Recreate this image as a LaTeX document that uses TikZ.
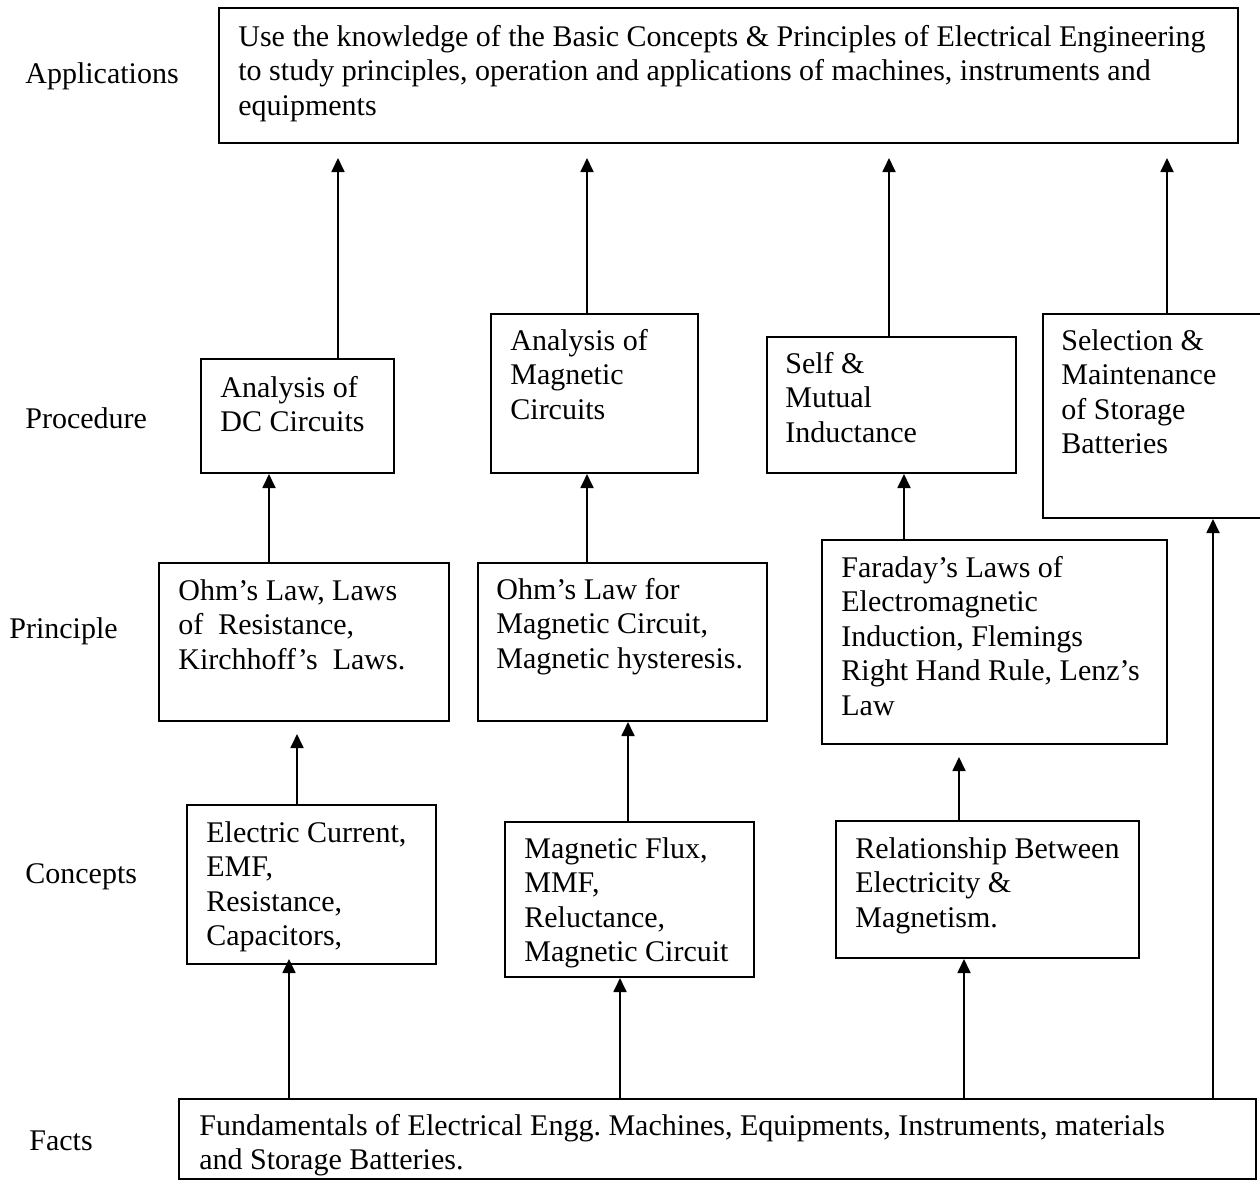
\documentclass[tikz,border=0pt]{standalone}
\usepackage{fontspec}
\setmainfont{Liberation Serif}
\usetikzlibrary{arrows.meta,calc}
\begin{document}
\begin{tikzpicture}[x=0.5pt,y=-0.5pt,
  box/.style={draw,line width=1pt,anchor=north west,inner sep=0pt},
  txt/.style={anchor=north west,inner sep=0pt,align=left,font=\fontsize{15}{17.25}\selectfont},
  lbl/.style={anchor=base west,inner sep=0pt,font=\fontsize{15}{17.25}\selectfont},
  arr/.style={line width=0.9pt,-{Triangle[width=6.5pt,length=7pt]}}]
\useasboundingbox (0,0) rectangle (1260,1180);

% level labels
\node[lbl] (lapp) at (25,83) {Applications};
\node[lbl] (lproc) at (25,428) {Procedure};
\node[lbl] (lprin) at (9,638) {Principle};
\node[lbl] (lconc) at (25,883) {Concepts};
\node[lbl] (lfact) at (29,1150) {Facts};

% boxes
\node[box,minimum width=509.5pt,minimum height=67.5pt] (app) at (218,7) {};
\node[box,minimum width=96.5pt,minimum height=57pt] (dc) at (200,358) {};
\node[box,minimum width=103.5pt,minimum height=79.5pt] (maga) at (490,313) {};
\node[box,minimum width=124.5pt,minimum height=68pt] (self) at (766,336) {};
\node[box,minimum width=112pt,minimum height=102pt] (sel) at (1042,313) {};
\node[box,minimum width=145pt,minimum height=79pt] (ohm) at (158,562) {};
\node[box,minimum width=144.5pt,minimum height=79pt] (ohmm) at (477,562) {};
\node[box,minimum width=172.5pt,minimum height=102pt] (far) at (821,539) {};
\node[box,minimum width=124.5pt,minimum height=79.5pt] (elec) at (186,804) {};
\node[box,minimum width=124.5pt,minimum height=77.5pt] (flux) at (504,821) {};
\node[box,minimum width=151.5pt,minimum height=68.5pt] (rel) at (835,820) {};
\node[box,minimum width=538.5pt,minimum height=40pt] (facts) at (178,1098) {};

% texts
\node[txt] (appT) at (238,21.85) {\strut Use the knowledge of the Basic Concepts \& Principles of Electrical Engineering\\to study principles, operation and applications of machines, instruments and\\equipments};
\node[txt] (dcT) at (220,372.85) {\strut Analysis of\\DC Circuits};
\node[txt] (magaT) at (510,325.85) {\strut Analysis of\\Magnetic\\Circuits};
\node[txt] (selfT) at (785,348.85) {\strut Self \&\\Mutual\\Inductance};
\node[txt] (selT) at (1061,325.85) {\strut Selection \&\\Maintenance\\of Storage\\Batteries};
\node[txt] (ohmT) at (178,575.85) {\strut Ohm’s Law, Laws\\of\ \ Resistance,\\Kirchhoff’s\ \ Laws.};
\node[txt] (ohmmT) at (496,574.85) {\strut Ohm’s Law for\\Magnetic Circuit,\\Magnetic hysteresis.};
\node[txt] (farT) at (841,552.85) {\strut Faraday’s Laws of\\Electromagnetic\\Induction, Flemings\\Right Hand Rule, Lenz’s\\Law};
\node[txt] (elecT) at (206,817.85) {\strut Electric Current,\\EMF,\\Resistance,\\Capacitors,};
\begin{scope}
\clip (504,821) rectangle (753,967);
\node[txt] (fluxT) at (524,833.85) {\strut Magnetic Flux,\\MMF,\\Reluctance,\\Magnetic Circuit};
\end{scope}
\node[txt] (relT) at (855,833.85) {\strut Relationship Between\\Electricity \&\\Magnetism.};
\node[txt] (factsT) at (199,1110.85) {\strut Fundamentals of Electrical Engg.\ Machines, Equipments, Instruments, materials\\and Storage Batteries.};

% x positions of connectors
\coordinate (x1) at (338,0);
\coordinate (x2) at (587,0);
\coordinate (x3) at (889,0);
\coordinate (x4) at (1167,0);
\coordinate (x5) at (269,0);
\coordinate (x6) at (904,0);
\coordinate (x7) at (297,0);
\coordinate (x8) at (628,0);
\coordinate (x9) at (959,0);
\coordinate (x10) at (289,0);
\coordinate (x11) at (620,0);
\coordinate (x12) at (964,0);
\coordinate (x13) at (1213,0);

% connectors
\draw[arr,shorten >=7pt] (dc.north -| x1) -- (app.south -| x1);
\draw[arr,shorten >=7pt] (maga.north -| x2) -- (app.south -| x2);
\draw[arr,shorten >=7pt] (self.north -| x3) -- (app.south -| x3);
\draw[arr,shorten >=7pt] (sel.north -| x4) -- (app.south -| x4);
\draw[arr] (ohm.north -| x5) -- (dc.south -| x5);
\draw[arr] (ohmm.north -| x2) -- (maga.south -| x2);
\draw[arr] (far.north -| x6) -- (self.south -| x6);
\draw[arr,shorten >=6pt] (elec.north -| x7) -- (ohm.south -| x7);
\draw[arr] (flux.north -| x8) -- (ohmm.south -| x8);
\draw[arr,shorten >=6pt] (rel.north -| x9) -- (far.south -| x9);
\draw[arr,shorten >=-3pt] (facts.north -| x10) -- (elec.south -| x10);
\draw[arr] (facts.north -| x11) -- (flux.south -| x11);
\draw[arr] (facts.north -| x12) -- (rel.south -| x12);
\draw[arr] (facts.north -| x13) -- (sel.south -| x13);
\end{tikzpicture}
\end{document}
